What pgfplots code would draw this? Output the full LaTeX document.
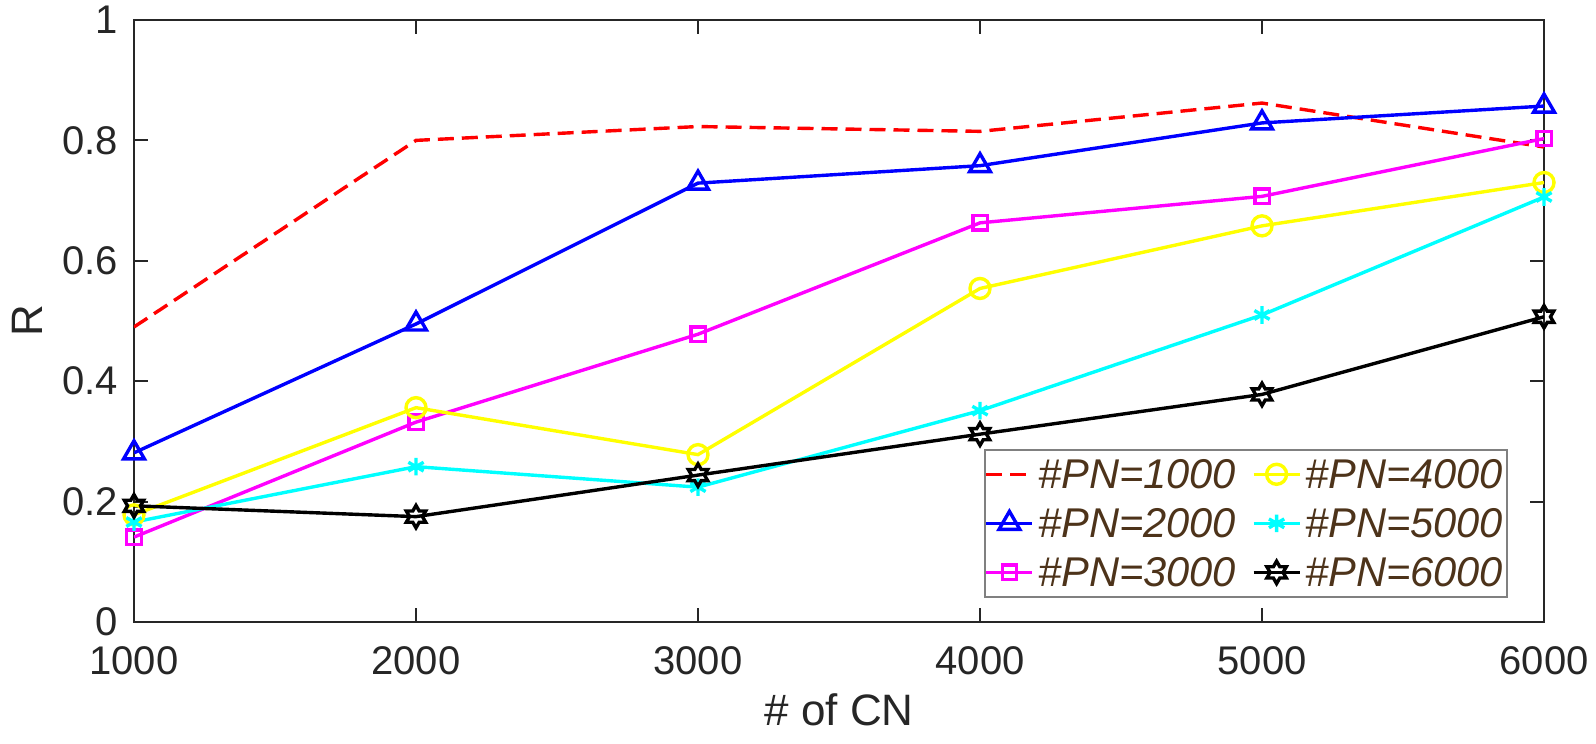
\documentclass[border=0pt]{standalone}
\usepackage{pgfplots}
\pgfplotsset{compat=1.18}
\usepackage{fontspec}
\setmainfont{Liberation Sans}
\setsansfont{Liberation Sans}
\definecolor{axgray}{RGB}{38,38,38}
\definecolor{legtext}{RGB}{77,51,26}
\definecolor{leggray}{RGB}{128,128,128}
\definecolor{cRed}{RGB}{255,0,0}
\definecolor{cBlue}{RGB}{0,0,255}
\definecolor{cMag}{RGB}{255,0,255}
\definecolor{cYel}{RGB}{255,255,0}
\definecolor{cCyan}{RGB}{0,255,255}
\definecolor{cBlack}{RGB}{0,0,0}
\pgfdeclareplotmark{hexagram}{%
  \pgfpathmoveto{\pgfpointpolar{90}{\pgfplotmarksize}}%
  \pgfpathlineto{\pgfpointpolar{120}{0.577\pgfplotmarksize}}%
  \pgfpathlineto{\pgfpointpolar{150}{\pgfplotmarksize}}%
  \pgfpathlineto{\pgfpointpolar{180}{0.577\pgfplotmarksize}}%
  \pgfpathlineto{\pgfpointpolar{210}{\pgfplotmarksize}}%
  \pgfpathlineto{\pgfpointpolar{240}{0.577\pgfplotmarksize}}%
  \pgfpathlineto{\pgfpointpolar{270}{\pgfplotmarksize}}%
  \pgfpathlineto{\pgfpointpolar{300}{0.577\pgfplotmarksize}}%
  \pgfpathlineto{\pgfpointpolar{330}{\pgfplotmarksize}}%
  \pgfpathlineto{\pgfpointpolar{0}{0.577\pgfplotmarksize}}%
  \pgfpathlineto{\pgfpointpolar{30}{\pgfplotmarksize}}%
  \pgfpathlineto{\pgfpointpolar{60}{0.577\pgfplotmarksize}}%
  \pgfpathclose
  \pgfusepathqstroke
}
\begin{document}
\begin{tikzpicture}
\begin{axis}[
  scale only axis,
  width=352.5pt, height=150.5pt,
  xmin=1000, xmax=6000, ymin=0, ymax=1,
  xtick={1000,2000,3000,4000,5000,6000},
  ytick={0,0.2,0.4,0.6,0.8,1},
  yticklabels={0,0.2,0.4,0.6,0.8,1},
  /pgf/number format/assume math mode=true,
  /pgf/number format/1000 sep={},
  tick align=inside,
  major tick length=3.5pt,
  axis line style={axgray, line width=0.5pt},
  tick style={axgray, line width=0.5pt},
  ticklabel style={font=\fontsize{10}{12}\selectfont, text=axgray},
  xticklabel style={yshift=-2.5pt},
  yticklabel style={xshift=-0.5pt},
  xlabel={\# of CN},
  ylabel={R},
  label style={font=\fontsize{11}{13}\selectfont, text=axgray},
  xlabel style={yshift=2pt},
  ylabel style={yshift=-2pt},
  legend columns=2,
  legend cell align=left,
  legend image code/.code={%
    \draw[mark repeat=2,mark phase=2,#1] plot coordinates {(0pt,0pt) (5.75pt,0pt) (11.5pt,0pt)};},
  legend style={at={(0.9745,0.04)}, anchor=south east,
    draw=leggray, line width=0.5pt, fill=white,
    font=\fontsize{10.4}{12}\selectfont\itshape, text=legtext,
    inner xsep=0pt, inner ysep=1.5pt, row sep=3pt,
    nodes={inner sep=1pt, text depth=0pt},
    /tikz/every even column/.append style={column sep=3pt}},
  every axis plot/.append style={line width=0.85pt},
]
\addlegendimage{cRed, dash pattern=on 4pt off 2pt}
\addlegendentry{\#PN=1000}
\addlegendimage{cYel, mark=o, mark size=2.5pt, mark options={solid}}
\addlegendentry{\#PN=4000}
\addlegendimage{cBlue, mark=triangle, mark size=3pt, mark options={solid}}
\addlegendentry{\#PN=2000}
\addlegendimage{cCyan, mark=asterisk, mark size=2.2pt, mark options={solid}}
\addlegendentry{\#PN=5000}
\addlegendimage{cMag, mark=square, mark size=1.8pt, mark options={solid}}
\addlegendentry{\#PN=3000}
\addlegendimage{cBlack, mark=hexagram, mark size=2.8pt, mark options={solid}}
\addlegendentry{\#PN=6000}

\addplot[forget plot, cRed, dash pattern=on 4pt off 2pt] coordinates {
 (1000,0.490) (2000,0.800) (3000,0.823) (4000,0.815) (5000,0.862) (6000,0.789)};
\addplot[forget plot, cBlue, mark=triangle, mark size=3pt, mark options={solid}] coordinates {
 (1000,0.281) (2000,0.495) (3000,0.729) (4000,0.758) (5000,0.829) (6000,0.857)};
\addplot[forget plot, cMag, mark=square, mark size=1.8pt, mark options={solid}] coordinates {
 (1000,0.141) (2000,0.332) (3000,0.478) (4000,0.663) (5000,0.707) (6000,0.803)};
\addplot[forget plot, cYel, mark=o, mark size=2.5pt, mark options={solid}] coordinates {
 (1000,0.178) (2000,0.356) (3000,0.278) (4000,0.554) (5000,0.658) (6000,0.730)};
\addplot[forget plot, cCyan, mark=asterisk, mark size=2.2pt, mark options={solid}] coordinates {
 (1000,0.166) (2000,0.258) (3000,0.224) (4000,0.351) (5000,0.510) (6000,0.706)};
\addplot[forget plot, cBlack, mark=hexagram, mark size=2.8pt, mark options={solid}] coordinates {
 (1000,0.193) (2000,0.175) (3000,0.244) (4000,0.312) (5000,0.378) (6000,0.507)};
\end{axis}
\pgfresetboundingbox
\path[use as bounding box] ([xshift=-33.5pt,yshift=-30.5pt]current axis.south west) rectangle ([xshift=13pt,yshift=5pt]current axis.north east);
\end{tikzpicture}
\end{document}
